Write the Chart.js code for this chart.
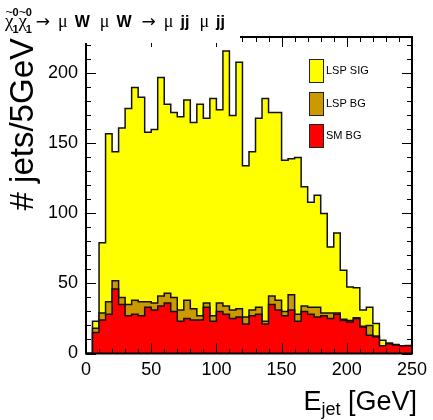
<!DOCTYPE html>
<html>
<head>
<meta charset="utf-8">
<script src="https://cdn.jsdelivr.net/npm/chart.js@4.4.1/dist/chart.umd.min.js"></script>
<style>
  html,body{margin:0;padding:0;background:#fff}
  #wrap{width:433px;height:420px}
</style>
</head>
<body>
<div id="wrap"><canvas id="chart" width="433" height="420"></canvas></div>
<script>
// ===== Data (5 GeV bins, low edges) =====
const binLow = [0,5,10,15,20,25,30,35,40,45,50,55,60,65,70,75,80,85,90,95,
  100,105,110,115,120,125,130,135,140,145,150,155,160,165,170,175,180,185,190,195,
  200,205,210,215,220,225,230,235,240,245];
const xEnd = 250;

const smBg = [0,15,24,28,46,35,27,28,27,33, 31,34,36,30,23,25,24,24,33,23,
  30,28,25,26,21,27,28,21,35,31, 27,31,23,30,28,26,27,25,28,23.5,
  22.5,25,19,13,12,5.5,7,6,5.5,5.5];
const lspBg = [0,3,5,9,6,5,8,10,10,4, 5,7,7,10,8,13,8,3,3,4,
  6,6,6,6,5,4,5,2,6,7, 3,11,5,4,5,7,2,4,1,1,
  1,0.5,0.5,7,0.5,0,0,0,0,0];
const lspSig = [0,5,50,120,92,121,140,152,146,121, 124,156,135,132,138,143,133,151,132,155,
  138,182,139,176,108,113,135,159,131,134, 108,97,112,85,75,80,71,47,57,35,
  24,21.5,11.5,13,9,4,0.5,0.5,0,0.3];

const xTicks = [0,50,100,150,200,250];
const yTicks = [0,50,100,150,200];
const yMax = 226;

const FONT = "'Liberation Sans', Arial, Helvetica, sans-serif";
const SERIF = "'Liberation Serif', 'DejaVu Serif', serif";

// ===== stacked step outlines =====
function stepPoints(){
  const layers = [smBg, lspBg, lspSig];
  let cum = binLow.map(()=>0);
  return layers.map(arr=>{
    cum = cum.map((c,i)=>c+arr[i]);
    const pts = binLow.map((x,i)=>({x:x, y:cum[i]}));
    pts.push({x:xEnd, y:cum[cum.length-1]});
    return pts;
  });
}
const pts = stepPoints();

function histSet(label, data, color, fill){
  return {label:label, data:data, stepped:'before', fill:fill,
    backgroundColor:color, borderColor:'#111', borderWidth:1.5,
    pointRadius:0, tension:0};
}

// ===== Frame, ticks, titles, legend =====
const decor = {
  id:'decor',
  afterDraw(chart){
    const {ctx, chartArea:a, scales:{x, y}} = chart;
    const ln = (x1,y1,x2,y2)=>{ ctx.beginPath(); ctx.moveTo(x1,y1); ctx.lineTo(x2,y2); ctx.stroke(); };
    ctx.save();
    ctx.strokeStyle = '#000'; ctx.lineWidth = 1;
    for(let v=0; v<=xEnd; v+=10){
      const px = Math.round(x.getPixelForValue(v))+0.5;
      const len = xTicks.includes(v) ? 10 : 5;
      ln(px, a.bottom, px, a.bottom-len);
      ln(px, a.top, px, a.top+len);
    }
    for(let v=0; v<=yMax; v+=10){
      const py = Math.round(y.getPixelForValue(v))+0.5;
      const len = yTicks.includes(v) ? 10 : 5;
      ln(a.left, py, a.left+len, py);
      ln(a.right, py, a.right-len, py);
    }
    ctx.lineWidth = 2;
    ctx.strokeRect(a.left, a.top, a.right-a.left, a.bottom-a.top);

    // title pave
    ctx.fillStyle = '#fff';
    ctx.fillRect(0, 0, 240, 43);
    ctx.fillStyle = '#000';
    ctx.textBaseline = 'alphabetic';
    ctx.textAlign = 'left';
    let tx = 5; const by = 27;
    const chi = ()=>{
      ctx.font = '19px ' + SERIF;
      ctx.fillText('χ', tx, by);
      const w = ctx.measureText('χ').width;
      ctx.font = '13px ' + FONT;
      ctx.textAlign = 'center';
      ctx.fillText('~', tx + w/2, by - 11);
      ctx.textAlign = 'left';
      ctx.font = 'bold 11px ' + FONT;
      ctx.fillText('0', tx + w - 1, by - 11);
      ctx.fillText('1', tx + w - 1, by + 6);
      tx += w + 5;
    };
    const run = (t, f, gap)=>{
      ctx.font = f;
      ctx.fillText(t, tx, by);
      tx += ctx.measureText(t).width + gap;
    };
    chi(); chi();
    tx += 4;
    const sym = '18px ' + SERIF, arrow = "17px 'DejaVu Sans', sans-serif", bold = 'bold 16px ' + FONT;
    run('→', arrow, 8); run('μ', sym, 7); run('W', bold, 10); run('μ', sym, 7); run('W', bold, 10);
    run('→', arrow, 8); run('μ', sym, 7); run('jj', bold, 10); run('μ', sym, 7); run('jj', bold, 0);

    // axis titles
    ctx.font = '27px ' + FONT;
    const wTail = ctx.measureText(' [GeV]').width;
    ctx.font = '18px ' + FONT;
    const wSub = ctx.measureText('jet').width;
    ctx.font = '27px ' + FONT;
    const wE = ctx.measureText('E').width;
    let ex = 417 - wTail - wSub - wE;
    ctx.fillText('E', ex, 410);
    ctx.font = '18px ' + FONT;
    ctx.fillText('jet', ex + wE, 415);
    ctx.font = '27px ' + FONT;
    ctx.fillText(' [GeV]', ex + wE + wSub, 410);

    ctx.save();
    ctx.translate(33, 38);
    ctx.rotate(-Math.PI/2);
    ctx.textAlign = 'right';
    ctx.font = '33px ' + FONT;
    ctx.fillText('# jets/5GeV', 0, 0);
    ctx.restore();

    // legend
    const items = [[2, 59], [1, 92], [0, 124]];
    items.forEach(([i, top])=>{
      const ds = chart.data.datasets[i];
      ctx.fillStyle = ds.backgroundColor;
      ctx.fillRect(309, top, 14, 23);
      ctx.lineWidth = 1; ctx.strokeStyle = '#222';
      ctx.strokeRect(309.5, top+0.5, 14, 23);
      ctx.fillStyle = '#000';
      ctx.font = '11px ' + FONT;
      ctx.textBaseline = 'middle';
      ctx.fillText(ds.label, 326, top + 12);
    });
    ctx.restore();
  }
};

new Chart(document.getElementById('chart'), {
  type:'line',
  data:{
    datasets:[
      histSet('SM BG', pts[0], '#ff0000', 'origin'),
      histSet('LSP BG', pts[1], '#cc9900', '-1'),
      histSet('LSP SIG', pts[2], '#ffff00', '-1')
    ]
  },
  options:{
    responsive:false, animation:false, devicePixelRatio:1,
    layout:{padding:{left:0, right:17, top:37, bottom:0}},
    plugins:{legend:{display:false}, tooltip:{enabled:false}},
    scales:{
      x:{type:'linear', min:0, max:xEnd,
        grid:{display:false, drawTicks:false}, border:{display:false},
        afterBuildTicks:s=>{ s.ticks = xTicks.map(v=>({value:v})); },
        afterFit:s=>{ s.height = 66.5; },
        ticks:{padding:6, color:'#000', font:{family:FONT, size:18}, maxRotation:0}
      },
      y:{type:'linear', min:0, max:yMax,
        grid:{display:false, drawTicks:false}, border:{display:false},
        afterBuildTicks:s=>{ s.ticks = yTicks.map(v=>({value:v})); },
        afterFit:s=>{ s.width = 86; },
        ticks:{padding:8, color:'#000', font:{family:FONT, size:18}}
      }
    }
  },
  plugins:[decor]
});
</script>
</body>
</html>
